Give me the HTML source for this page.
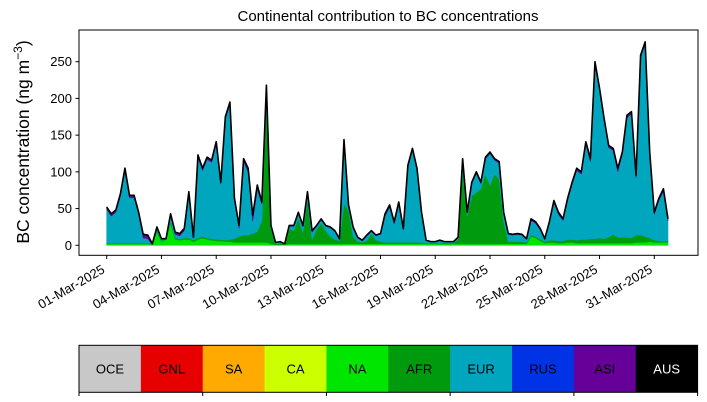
<!DOCTYPE html>
<html><head><meta charset="utf-8">
<style>
body{margin:0;background:#fff;}
svg{display:block;font-family:"Liberation Sans","DejaVu Sans",sans-serif;}
</style></head>
<body>
<svg id="chart" width="707" height="402" viewBox="0 0 707 402">
<text x="388" y="21" font-size="15" text-anchor="middle">Continental contribution to BC concentrations</text>
<text transform="translate(29,142) rotate(-90)" font-size="17.5" text-anchor="middle">BC concentration (ng m<tspan dy="-7" font-size="12">−3</tspan><tspan dy="7">)</tspan></text>
<g id="areas"></g>
<rect x="79" y="30" width="619" height="225.3" fill="none" stroke="#000" stroke-width="1"/>
<g id="yaxis"></g>
<g id="xaxis"></g>
<g id="cbar"></g>
</svg>
<script>
const dayTicks = [0,3,6,9,12,15,18,21,24,27,30];
const dayTickLabels = ["01-Mar-2025","04-Mar-2025","07-Mar-2025","10-Mar-2025","13-Mar-2025","16-Mar-2025","19-Mar-2025","22-Mar-2025","25-Mar-2025","28-Mar-2025","31-Mar-2025"];
const yTicks = [0,50,100,150,200,250];
const regions = ["OCE","GNL","SA","CA","NA","AFR","EUR","RUS","ASI","AUS"];
const regionColors = ["#c8c8c8","#e60000","#ffaa00","#ccff00","#00e600","#009a0e","#00a6be","#0033e6","#660099","#000000"];
const stepHours = 6;
const NA = [2,2,2,2,2,2,2,2,2,2,1,18,5,8,30,8,7,8,8,5,8,10,8,7,6,6,5,5,4,4,4,4,4,4,4,4,2,1,1,1,2,2,2,2,2,2,2,2,2,2,2,2,2,2,2,2,2,2,2,2,2,2,2,2,2,2,2,2,2,2,2,2,2,2,2,2,2,2,2,2,2,2,2,2,2,2,2,2,2,2,2,2,2,12,10,6,3,4,4,3,3,4,4,3,3,3,3,3,3,3,3,3,3,3,3,3,4,4,4,5,4,4,4,4];
const AFR = [1,1,1,1,1,1,1,1,1,1,0,2,1,1,2,2,2,2,2,2,2,2,2,2,2,2,2,3,5,8,10,10,12,15,30,190,20,1,2,1,20,18,35,15,60,6,20,28,18,10,6,4,55,45,10,3,2,4,14,5,3,2,2,2,2,2,2,2,2,2,1,1,1,1,1,1,1,6,100,38,65,70,75,95,80,95,88,30,3,3,3,3,2,2,2,2,2,3,3,3,3,4,4,4,5,5,6,6,7,6,8,12,8,8,8,7,10,10,8,5,3,2,2,2];
const EUR = [46,37,42,64,98,62,62,39,7,6,0,3,2,0,8,5,4,10,60,3,110,90,107,104,130,75,165,184,52,11,100,86,17,58,22,21,4,2,2,0,4,6,6,8,9,10,4,5,6,12,11,2,85,6,11,5,2,7,3,6,10,36,48,25,52,17,102,125,98,39,3,2,2,3,2,2,2,2,14,4,17,26,7,21,43,19,22,12,10,9,10,9,4,20,18,13,3,23,51,36,28,53,75,95,89,130,105,238,201,161,122,114,89,113,163,169,78,242,262,114,35,55,68,27];
const ASI = [3,3,3,3,4,3,3,3,5,5,1,2,1,0,3,3,3,3,3,1,3,3,3,3,3,3,3,3,3,4,4,5,8,5,3,3,1,0,0,0,1,1,2,2,2,2,1,1,1,1,1,1,2,2,2,1,1,1,1,1,1,3,3,3,3,2,3,3,3,2,1,0,0,1,0,0,0,1,2,1,2,2,2,2,2,2,2,1,1,1,1,1,1,2,2,2,1,2,3,3,2,3,3,3,3,3,4,3,3,3,3,3,5,3,3,3,3,3,3,3,3,3,3,3];

const NS='http://www.w3.org/2000/svg';
function X(day){return 106.7 + day*18.253;}
function Y(v){return 245.3 - v*0.7344;}
function mk(tag,attrs,parent){const e=document.createElementNS(NS,tag);for(const k in attrs)e.setAttribute(k,attrs[k]);parent.appendChild(e);return e;}

const layers=[["na",NA,regionColors[4]],["afr",AFR,regionColors[5]],["eur",EUR,regionColors[6]],["asi",ASI,regionColors[8]]];
const n=EUR.length;
let base=new Array(n).fill(0);
const gA=document.getElementById('areas');
layers.forEach(([nm,arr,col])=>{
  const top=base.map((b,i)=>b+arr[i]);
  let d='';
  for(let i=0;i<n;i++){d+=(i?'L':'M')+X(i*stepHours/24).toFixed(2)+','+Y(top[i]).toFixed(2);}
  for(let i=n-1;i>=0;i--){d+='L'+X(i*stepHours/24).toFixed(2)+','+Y(base[i]).toFixed(2);}
  d+='Z';
  const p=mk('path',{d:d,fill:col,stroke:col,'stroke-width':0.6},gA);
  
  
  base=top;
});
let dl='';
for(let i=0;i<n;i++){dl+=(i?'L':'M')+X(i*stepHours/24).toFixed(2)+','+Y(base[i]).toFixed(2);}
const tl=mk('path',{d:dl,fill:'none',stroke:'#000','stroke-width':1.6,'stroke-linejoin':'round'},gA);



const gy=document.getElementById('yaxis');
yTicks.forEach(v=>{
  const t=mk('line',{x1:75.5,x2:79,y1:Y(v),y2:Y(v),stroke:'#000'},gy);
  
  
  const l=mk('text',{x:72,y:Y(v)+4.5,'font-size':13,'text-anchor':'end'},gy);
  l.textContent=v;
  
  
});
const gx=document.getElementById('xaxis');
dayTicks.forEach((d,i)=>{
  const x=X(d);
  const t=mk('line',{x1:x,x2:x,y1:255.3,y2:259,stroke:'#000'},gx);
  
  
  const l=mk('text',{transform:'translate('+(x-1)+',272) rotate(-30)','font-size':13,'text-anchor':'end'},gx);
  l.textContent=dayTickLabels[i];
  
  
});
const gc=document.getElementById('cbar');
const cw=618.6/regions.length;
regions.forEach((r,i)=>{
  const s=mk('rect',{x:79+i*cw,y:345.3,width:cw+0.3,height:47,fill:regionColors[i]},gc);
  
  
  const l=mk('text',{x:79+i*cw+cw/2,y:373.5,'font-size':13,'text-anchor':'middle',fill:r==='AUS'?'#fff':'#000'},gc);
  l.textContent=r;
  
  
});
const fr=mk('rect',{x:79,y:345.3,width:618.6,height:47,fill:'none',stroke:'#000'},gc);


for(let k=0;k<=10;k+=2){
  const x=79+k*cw;
  const t=mk('line',{x1:x,x2:x,y1:392.3,y2:396,stroke:'#000'},gc);
  
  
}
</script>
</body></html>
